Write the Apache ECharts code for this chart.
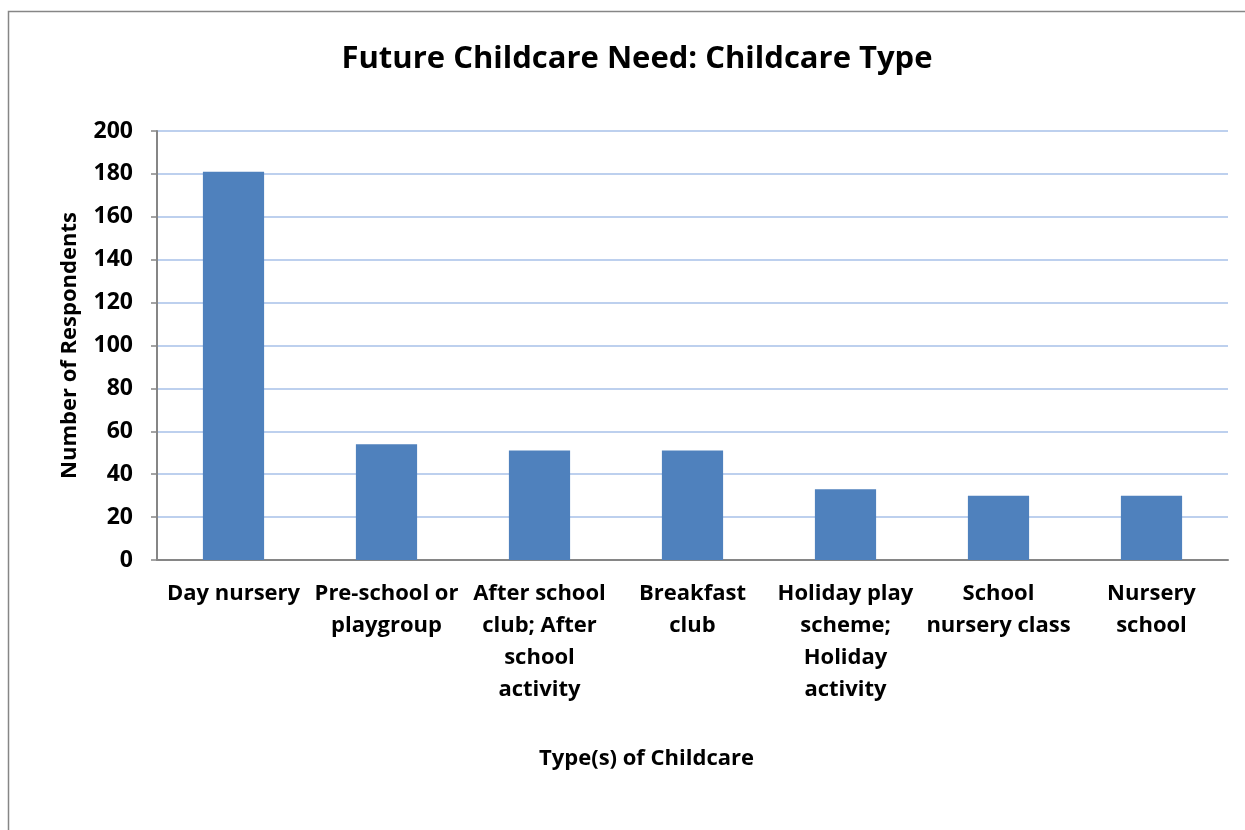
<!DOCTYPE html>
<html>
<head>
<meta charset="utf-8">
<script src="https://cdn.jsdelivr.net/npm/echarts@6/dist/echarts.min.js"></script>
<style>
html,body{margin:0;padding:0;background:#fff;}
#chart{width:1245px;height:830px;}
</style>
</head>
<body>
<div id="chart"></div>
<script>
var titleText = 'Future Childcare Need: Childcare Type';
var categories = ['Day nursery', 'Pre-school or\nplaygroup', 'After school\nclub; After\nschool\nactivity', 'Breakfast\nclub', 'Holiday play\nscheme;\nHoliday\nactivity', 'School\nnursery class', 'Nursery\nschool'];
var respondents = [181, 54, 51, 51, 33, 30, 30];
var yTicks = [0, 20, 40, 60, 80, 100, 120, 140, 160, 180, 200];
var xAxisName = 'Type(s) of Childcare';
var yAxisName = 'Number of Respondents';

var FONT = 'Open Sans';
var chart = echarts.init(document.getElementById('chart'), null, {renderer: 'canvas'});
chart.setOption({
  animation: false,
  backgroundColor: '#fff',
  title: {
    text: titleText,
    left: 632, top: 39,
    textAlign: 'center',
    textStyle: {fontFamily: FONT, fontWeight: 'bold', fontSize: 31, color: '#000'}
  },
  graphic: [{
    type: 'polyline',
    shape: {points: [[8.5, 830], [8.5, 11.5], [1245, 11.5]]},
    style: {stroke: '#868686', lineWidth: 1.5, fill: null}
  }],
  grid: {left: 157, right: 17, top: 131, bottom: 270, containLabel: false},
  xAxis: {
    type: 'category',
    data: categories,
    name: xAxisName,
    nameLocation: 'middle',
    nameGap: 188,
    nameTextStyle: {fontFamily: FONT, fontWeight: 'bold', fontSize: 22, color: '#000', padding: [0, 92, 0, 0]},
    axisLine: {lineStyle: {color: '#868686', width: 2}},
    axisTick: {show: false},
    axisLabel: {interval: 0, margin: 18, fontFamily: FONT, fontWeight: 'bold', fontSize: 22, lineHeight: 32, color: '#000', verticalAlign: 'top'}
  },
  yAxis: {
    type: 'value',
    min: yTicks[0], max: yTicks[yTicks.length - 1], interval: 20,
    name: yAxisName,
    nameLocation: 'middle',
    nameGap: 76,
    nameRotate: 90,
    nameTextStyle: {fontFamily: FONT, fontWeight: 'bold', fontSize: 22, color: '#000'},
    axisLine: {show: true, lineStyle: {color: '#868686', width: 2}},
    axisTick: {show: true, length: 6, lineStyle: {color: '#868686', width: 1.5}},
    axisLabel: {margin: 24, fontFamily: FONT, fontWeight: 'bold', fontSize: 23, color: '#000'},
    splitLine: {lineStyle: {color: '#a7c0e8', width: 1.5}}
  },
  series: [{
    type: 'bar',
    data: respondents,
    barWidth: '40%',
    itemStyle: {color: '#4f81bd'}
  }]
});
</script>
</body>
</html>
